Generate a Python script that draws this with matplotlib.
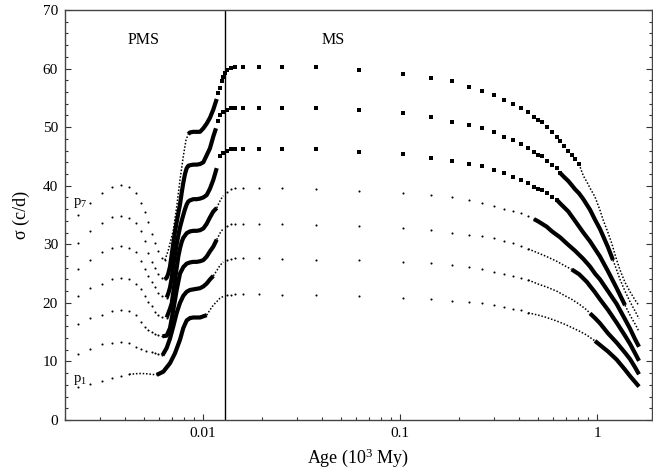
import matplotlib
matplotlib.use('Agg')
import matplotlib.pyplot as plt
import numpy as np
from matplotlib.ticker import LogLocator, NullFormatter, MultipleLocator

# ---------------- data ----------------
MS_START = 0.01294   # vertical line: PMS / MS boundary (10^3 My)

P1_AGE = [0.002307, 0.002669, 0.003071, 0.003464, 0.003848, 0.004224, 0.004569, 0.004844, 0.005137, 0.005492,
          0.005821, 0.006288, 0.006800, 0.007209, 0.007642, 0.007943, 0.008265, 0.008590, 0.008929, 0.009291,
          0.009656, 0.01004, 0.01044, 0.01085, 0.01128, 0.01174, 0.01220, 0.01268, 0.01319, 0.01382,
          0.01448, 0.01602, 0.01917, 0.02509, 0.03746, 0.06192, 0.1032, 0.1437, 0.1837, 0.2240,
          0.2617, 0.3002, 0.3373, 0.3759, 0.4114, 0.4480, 0.5035, 0.5555, 0.6244, 0.6801,
          0.7442, 0.8104, 0.8868, 0.9768, 1.036, 1.137, 1.259, 1.387, 1.471, 1.560, 1.634]
P1_SIG = [5.7, 6.1, 6.7, 7.2, 7.5, 7.8, 7.9, 7.95, 7.9, 7.8,
          7.7, 8.25, 9.7, 11.4, 13.7, 15.7, 17.0, 17.4, 17.5, 17.5,
          17.5, 17.7, 17.9, 18.8, 19.6, 20.2, 20.8, 21.1, 21.3, 21.4,
          21.5, 21.5, 21.5, 21.4, 21.3, 21.2, 20.9, 20.7, 20.4, 20.1,
          19.9, 19.6, 19.3, 19.0, 18.7, 18.3, 17.9, 17.5, 16.9, 16.4,
          15.8, 15.2, 14.5, 13.5, 12.8, 11.7, 10.3, 8.6, 7.5, 6.5, 5.7]
P1_STY = "d" * 6 + "t" * 5 + "T" * 12 + "t" * 5 + "d" * 18 + "t" * 8 + "T" * 7

P2_AGE = [0.002307, 0.002669, 0.003071, 0.003464, 0.003848, 0.004224, 0.004569, 0.004844, 0.005137, 0.005492,
          0.005707, 0.005930, 0.006228, 0.006541, 0.006800, 0.007067, 0.007354, 0.007642, 0.007943, 0.008265,
          0.008590, 0.008929, 0.009291, 0.009656, 0.01004, 0.01044, 0.01085, 0.01128, 0.01174, 0.01220,
          0.01268, 0.01319, 0.01382, 0.01448, 0.01602, 0.01917, 0.02509, 0.03746, 0.06192, 0.1032,
          0.1437, 0.1837, 0.2240, 0.2617, 0.3002, 0.3373, 0.3759, 0.4114, 0.4480, 0.5035,
          0.5555, 0.6244, 0.6801, 0.7442, 0.8104, 0.8868, 0.9218, 0.9768, 1.036, 1.137,
          1.259, 1.387, 1.471, 1.560, 1.634]
P2_SIG = [11.3, 12.1, 13.0, 13.1, 13.3, 13.1, 12.5, 12.1, 11.8, 11.6,
          11.4, 11.2, 11.05, 12.3, 13.9, 16.0, 18.3, 20.0, 21.2, 21.9,
          22.2, 22.3, 22.4, 22.5, 22.8, 23.3, 24.0, 24.6, 25.5, 26.4,
          27.0, 27.3, 27.5, 27.6, 27.6, 27.6, 27.5, 27.4, 27.3, 27.0,
          26.8, 26.5, 26.1, 25.7, 25.3, 25.0, 24.6, 24.2, 23.9, 23.2,
          22.7, 22.0, 21.3, 20.6, 19.8, 18.8, 18.2, 17.4, 16.5, 14.8,
          13.2, 11.5, 10.4, 9.0, 7.8]
P2_STY = "d" * 13 + "T" * 15 + "t" * 3 + "d" * 18 + "t" * 8 + "T" * 8

P3_AGE = [0.002307, 0.002669, 0.003071, 0.003464, 0.003848, 0.004224, 0.004569, 0.004844, 0.005060, 0.005278,
          0.005492, 0.005707, 0.005930, 0.006228, 0.006541, 0.006800, 0.007067, 0.007354, 0.007642, 0.007943,
          0.008265, 0.008590, 0.008929, 0.009291, 0.009656, 0.01004, 0.01044, 0.01085, 0.01128, 0.01174,
          0.01220, 0.01268, 0.01319, 0.01382, 0.01448, 0.01602, 0.01917, 0.02509, 0.03746, 0.06192,
          0.1032, 0.1437, 0.1837, 0.2240, 0.2617, 0.3002, 0.3373, 0.3759, 0.4114, 0.4480,
          0.5035, 0.5555, 0.6244, 0.6801, 0.7442, 0.8104, 0.8868, 0.9768, 1.036, 1.137,
          1.259, 1.387, 1.471, 1.560, 1.634]
P3_SIG = [16.35, 17.5, 18.0, 18.6, 18.7, 18.6, 17.9, 16.7, 15.9, 15.3,
          15.0, 14.7, 14.5, 14.3, 14.4, 15.7, 18.8, 22.2, 25.0, 26.1,
          26.7, 26.9, 27.0, 27.0, 27.1, 27.3, 27.9, 28.8, 29.6, 30.8,
          31.9, 32.7, 33.2, 33.4, 33.5, 33.5, 33.5, 33.5, 33.3, 33.1,
          32.7, 32.4, 32.0, 31.6, 31.4, 31.0, 30.6, 30.2, 29.7, 29.2,
          28.5, 27.9, 27.1, 26.4, 25.7, 24.9, 23.6, 21.8, 20.6, 18.8,
          16.6, 14.4, 13.0, 11.4, 10.1]
P3_STY = "d" * 14 + "T" * 16 + "t" * 2 + "d" * 18 + "t" * 5 + "T" * 10

P4_AGE = [0.002307, 0.002669, 0.003071, 0.003464, 0.003848, 0.004224, 0.004569, 0.004844, 0.005060, 0.005278,
          0.005492, 0.005707, 0.005930, 0.006228, 0.006541, 0.006800, 0.006936, 0.007067, 0.007209, 0.007354,
          0.007492, 0.007642, 0.007795, 0.007943, 0.008265, 0.008590, 0.008929, 0.009291, 0.009656, 0.01004,
          0.01044, 0.01085, 0.01128, 0.01174, 0.01196, 0.01220, 0.01244, 0.01268, 0.01319, 0.01382,
          0.01448, 0.01602, 0.01917, 0.02509, 0.03746, 0.06192, 0.1032, 0.1437, 0.1837, 0.2240,
          0.2617, 0.3002, 0.3373, 0.3759, 0.4114, 0.4480, 0.4786, 0.5035, 0.5555, 0.5911,
          0.6490, 0.7151, 0.7734, 0.8523, 0.9218, 0.9768, 1.036, 1.137, 1.259, 1.387,
          1.471, 1.560, 1.634]
P4_SIG = [21.2, 22.5, 23.3, 24.1, 24.2, 24.0, 23.2, 22.4, 21.1, 20.1,
          19.4, 18.5, 17.9, 17.6, 17.5, 19.0, 19.9, 21.8, 23.9, 26.0,
          27.9, 29.3, 30.4, 31.1, 31.9, 32.2, 32.3, 32.3, 32.4, 32.7,
          33.5, 34.6, 35.6, 36.2, 36.8, 37.4, 37.9, 38.3, 39.0, 39.4,
          39.6, 39.6, 39.6, 39.6, 39.4, 39.1, 38.8, 38.4, 38.0, 37.6,
          37.1, 36.6, 36.1, 35.7, 35.3, 34.8, 34.3, 33.9, 33.0, 32.2,
          31.2, 29.9, 28.9, 27.5, 26.2, 25.0, 24.0, 22.0, 19.8, 17.2,
          15.6, 13.8, 12.5]
P4_STY = "d" * 15 + "T" * 19 + "t" * 4 + "d" * 19 + "T" * 16

P5_AGE = [0.002307, 0.002669, 0.003071, 0.003464, 0.003848, 0.004224, 0.004569, 0.004844, 0.005060, 0.005278,
          0.005492, 0.005707, 0.005930, 0.006228, 0.006541, 0.006666, 0.006800, 0.006936, 0.007067, 0.007209,
          0.007354, 0.007492, 0.007642, 0.007795, 0.007943, 0.008102, 0.008265, 0.008420, 0.008590, 0.008929,
          0.009291, 0.009656, 0.01004, 0.01044, 0.01085, 0.01128, 0.01174, 0.01220, 0.01268, 0.01319,
          0.01382, 0.01448, 0.01602, 0.01917, 0.02509, 0.03746, 0.06192, 0.1032, 0.1437, 0.1837,
          0.2240, 0.2617, 0.3002, 0.3373, 0.3759, 0.4114, 0.4480, 0.4786, 0.5035, 0.5240,
          0.5555, 0.5911, 0.6244, 0.6490, 0.7151, 0.7734, 0.8523, 0.9218, 1.036, 1.137,
          1.259, 1.387, 1.471, 1.560, 1.634]
P5_SIG = [25.85, 27.4, 28.7, 29.4, 29.7, 29.4, 28.6, 27.1, 25.8, 24.6,
          23.5, 22.7, 21.7, 21.1, 20.9, 21.6, 22.6, 24.2, 26.4, 28.3,
          30.0, 31.5, 32.9, 34.0, 35.0, 36.0, 36.8, 37.3, 37.5, 37.7,
          37.7, 37.8, 38.0, 38.4, 39.5, 41.0, 43.0, 45.0, 45.6, 46.0,
          46.2, 46.2, 46.2, 46.2, 46.2, 46.2, 45.8, 45.4, 44.8, 44.2,
          43.7, 43.3, 42.6, 42.1, 41.5, 41.0, 40.4, 39.8, 39.5, 39.2,
          38.7, 38.1, 37.6, 37.0, 35.6, 34.0, 32.0, 30.5, 27.9, 25.4,
          22.5, 19.6, 17.9, 16.4, 15.1]
P5_STY = "d" * 15 + "T" * 22 + "s" * 26 + "T" * 9 + "t" * 3

P6_AGE = [0.002307, 0.002669, 0.003071, 0.003464, 0.003848, 0.004224, 0.004569, 0.004844, 0.005060, 0.005278,
          0.005492, 0.005707, 0.005930, 0.006228, 0.006413, 0.006541, 0.006666, 0.006800, 0.006936, 0.007067,
          0.007209, 0.007354, 0.007492, 0.007642, 0.007795, 0.007943, 0.008102, 0.008265, 0.008420, 0.008590,
          0.008929, 0.009291, 0.009656, 0.01004, 0.01044, 0.01085, 0.01128, 0.01164, 0.01196, 0.01220,
          0.01268, 0.01319, 0.01382, 0.01448, 0.01602, 0.01917, 0.02509, 0.03746, 0.06192, 0.1032,
          0.1437, 0.1837, 0.2240, 0.2617, 0.3002, 0.3373, 0.3759, 0.4114, 0.4480, 0.4786,
          0.5035, 0.5240, 0.5555, 0.5911, 0.6244, 0.6490, 0.6801, 0.7151, 0.7442, 0.7734,
          0.8104, 0.8523, 0.9218, 0.9768, 1.036, 1.137, 1.206, 1.259, 1.309, 1.387,
          1.471, 1.560, 1.634]
P6_SIG = [30.3, 32.3, 33.7, 34.6, 34.9, 34.5, 33.6, 32.2, 30.5, 28.5,
          27.0, 25.9, 25.0, 24.2, 24.0, 24.3, 25.0, 26.2, 28.2, 30.2,
          32.2, 33.8, 35.3, 36.8, 38.8, 40.5, 42.0, 43.0, 43.4, 43.5,
          43.6, 43.6, 43.7, 44.0, 45.2, 46.4, 48.4, 49.8, 51.1, 52.0,
          52.6, 53.0, 53.3, 53.3, 53.3, 53.3, 53.3, 53.2, 52.9, 52.4,
          51.7, 50.9, 50.4, 49.8, 49.1, 48.4, 47.8, 47.1, 46.4, 45.7,
          45.3, 45.0, 44.3, 43.6, 43.0, 42.2, 41.5, 40.8, 40.1, 39.4,
          38.7, 37.7, 35.9, 34.2, 32.6, 29.5, 27.3, 25.6, 24.0, 22.0,
          20.2, 18.6, 17.3]
P6_STY = "d" * 15 + "T" * 23 + "s" * 28 + "T" * 11 + "t" * 6

P7_AGE = [0.002307, 0.002669, 0.003071, 0.003464, 0.003848, 0.004224, 0.004569, 0.004844, 0.005060, 0.005278,
          0.005492, 0.005707, 0.005930, 0.006228, 0.006413, 0.006666, 0.006936, 0.007067, 0.007354, 0.007642,
          0.007943, 0.008196, 0.008420, 0.008590, 0.008929, 0.009291, 0.009656, 0.01004, 0.01044, 0.01085,
          0.01128, 0.01174, 0.01196, 0.01220, 0.01244, 0.01268, 0.01293, 0.01319, 0.01382, 0.01448,
          0.01602, 0.01917, 0.02509, 0.03746, 0.06192, 0.1032, 0.1437, 0.1837, 0.2240, 0.2617,
          0.3002, 0.3373, 0.3759, 0.4114, 0.4480, 0.4786, 0.5035, 0.5240, 0.5555, 0.5911,
          0.6244, 0.6490, 0.6801, 0.7151, 0.7442, 0.7734, 0.8104, 0.8523, 0.8868, 0.9218,
          0.9768, 1.036, 1.076, 1.137, 1.187, 1.259, 1.309, 1.387, 1.471, 1.560,
          1.634]
P7_SIG = [35.0, 37.1, 38.75, 39.75, 40.15, 39.7, 38.7, 37.1, 35.5, 33.8,
          31.8, 30.2, 28.9, 27.7, 27.3, 29.0, 31.3, 32.4, 36.4, 41.0,
          45.0, 47.8, 48.8, 49.1, 49.2, 49.2, 49.2, 49.8, 50.6, 51.6,
          53.0, 54.8, 55.8, 56.7, 57.8, 58.5, 59.3, 59.7, 60.1, 60.3,
          60.3, 60.3, 60.3, 60.2, 59.8, 59.1, 58.4, 57.8, 56.9, 56.2,
          55.5, 54.7, 54.0, 53.2, 52.5, 51.7, 51.3, 50.8, 50.0, 49.1,
          48.4, 47.7, 46.8, 46.0, 45.2, 44.5, 43.7, 41.7, 40.7, 39.6,
          38.1, 35.8, 34.1, 32.0, 30.2, 27.3, 25.6, 23.5, 21.9, 20.5,
          19.5]
P7_STY = "d" * 15 + "t" * 8 + "T" * 9 + "s" * 35 + "t" * 14

TRACKS = [(P1_AGE, P1_SIG, P1_STY), (P2_AGE, P2_SIG, P2_STY), (P3_AGE, P3_SIG, P3_STY),
          (P4_AGE, P4_SIG, P4_STY), (P5_AGE, P5_SIG, P5_STY), (P6_AGE, P6_SIG, P6_STY),
          (P7_AGE, P7_SIG, P7_STY)]

X_TICKS = [0.01, 0.1, 1]
X_TICK_LABELS = ['0.01', '0.1', '1']
Y_TICKS = [0, 10, 20, 30, 40, 50, 60, 70]

# ---------------- style ----------------
plt.rcParams['font.family'] = ['Liberation Serif', 'DejaVu Serif']
plt.rcParams['mathtext.fontset'] = 'custom'
plt.rcParams['mathtext.rm'] = 'Liberation Serif'
plt.rcParams['mathtext.it'] = 'Liberation Serif:italic'

fig = plt.figure(figsize=(6.53, 4.73), dpi=100)
ax = fig.add_axes([65 / 653, 53 / 473, 587 / 653, 410 / 473])
ax.set_xscale('log')
ax.set_xlim(0.001993, 1.902)
ax.set_ylim(0, 70)


def draw_track(ax, ages, sig, sty):
    ages = np.asarray(ages)
    sig = np.asarray(sig)
    n = min(len(ages), len(sig), len(sty))
    ages, sig, sty = ages[:n], sig[:n], sty[:n]
    i = 0
    while i < n:
        c = sty[i]
        j = i
        while j + 1 < n and sty[j + 1] == c:
            j += 1
        if c in 'tT':
            k0 = max(i - 1, 0)
            xs, ys = ages[k0:j + 1], sig[k0:j + 1]
            if c == 'T':
                ax.plot(xs, ys, color='black', lw=3.0, solid_capstyle='butt',
                        solid_joinstyle='round', zorder=3)
            else:
                ax.plot(xs, ys, color='black', lw=1.1, linestyle=(0, (1.0, 1.2)),
                        dash_capstyle='butt', zorder=3)
        i = j + 1
    d = np.array([c == 'd' for c in sty])
    s = np.array([c == 's' for c in sty])
    ax.plot(ages[d], sig[d], linestyle='none', marker='o', ms=1.5, mew=0,
            color='black', zorder=4)
    ax.plot(ages[s], sig[s], linestyle='none', marker='s', ms=2.5, mew=0,
            color='black', zorder=4)


for a, sgm, st in TRACKS:
    draw_track(ax, a, sgm, st)

ax.axvline(MS_START, color='black', lw=1.0, zorder=2)

ax.text(0.00502, 64.9, 'PMS', fontsize=11.5, ha='center', va='center')
ax.text(0.0456, 64.9, 'MS', fontsize=11.5, ha='center', va='center')
ax.text(0.00219, 36.7, 'p$_{\\mathrm{7}}$', fontsize=10.5, ha='left', va='baseline')
ax.text(0.00219, 6.5, 'p$_{\\mathrm{1}}$', fontsize=10.5, ha='left', va='baseline')

ax.set_xticks(X_TICKS)
ax.set_xticklabels(X_TICK_LABELS)
ax.xaxis.set_minor_locator(LogLocator(base=10, subs=np.arange(2, 10)))
ax.xaxis.set_minor_formatter(NullFormatter())
ax.set_yticks(Y_TICKS)
ax.yaxis.set_minor_locator(MultipleLocator(2))
ax.tick_params(which='both', direction='in', top=False, right=True, color='#333333', width=0.8)
ax.tick_params(which='major', length=4.5, labelsize=11, pad=5)
ax.tick_params(which='minor', length=2.5)
for sp in ax.spines.values():
    sp.set_color('#444444')
    sp.set_linewidth(1.0)

ax.set_xlabel('Age (10$^{3}$ My)', fontsize=13, labelpad=5)
ax.set_ylabel('σ (c/d)', fontsize=13, labelpad=9)

fig.savefig('out.png', dpi=100)
